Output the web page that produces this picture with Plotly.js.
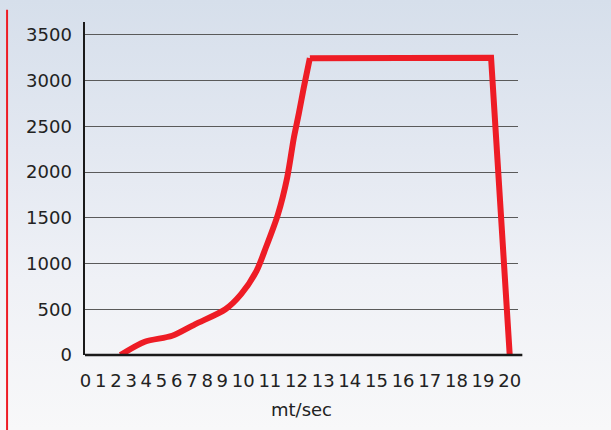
<!DOCTYPE html>
<html>
<head>
<meta charset="utf-8">
<script src="https://cdn.plot.ly/plotly-3.0.1.min.js"></script>
<style>
  html, body { margin: 0; padding: 0; }
  body {
    width: 611px; height: 430px; overflow: hidden;
    background: linear-gradient(180deg, #d6dfeb 0%, #e3e8f1 35%, #eff1f6 65%, #f8f8f9 100%);
  }
  #chart { width: 611px; height: 430px; }
</style>
</head>
<body>
<div id="chart"></div>
<script>
// ---- data ----
const tickSpeeds = [0,1,2,3,4,5,6,7,8,9,10,11,12,13,14,15,16,17,18,19,20];
const tickLabels = ["0","1","2","3","4","5","6","7","8","9","10","11","12","13","14","15","16","17","18","19","20"];
// rising part of the power curve (wind speed m/s, power kW)
const riseSpeed = [2.3, 3.9, 5.7, 7.2, 9.15, 9.9, 10.5, 10.85, 11.3, 11.65, 11.9, 12.08, 12.27, 12.5];
const risePower = [0, 145, 210, 335, 500, 665, 920, 1175, 1535, 1940, 2375, 2630, 2920, 3245];
// rated plateau and cut-out
const flatSpeed = [12.5, 19.3, 20];
const flatPower = [3245, 3250, 0];
const yTicks = [0, 500, 1000, 1500, 2000, 2500, 3000, 3500];

// ---- axis scale: the labels sit like a run of text, so each label's
// position follows from the width of the labels before it ----
const charW = 11.45, gap = 3.75;
const tickPos = [];
tickLabels.forEach((t, i) => {
  if (i === 0) { tickPos.push(0); return; }
  const prev = tickLabels[i - 1];
  tickPos.push(tickPos[i - 1] + prev.length * charW / 2 + gap + t.length * charW / 2);
});
function toAxis(s) {
  for (let i = 0; i < tickSpeeds.length - 1; i++) {
    if (s <= tickSpeeds[i + 1]) {
      const f = (s - tickSpeeds[i]) / (tickSpeeds[i + 1] - tickSpeeds[i]);
      return tickPos[i] + f * (tickPos[i + 1] - tickPos[i]);
    }
  }
  return tickPos[tickPos.length - 1];
}

const red = '#ee1c25';
const traces = [
  { x: riseSpeed.map(toAxis), y: risePower, mode: 'lines',
    line: { color: red, width: 6, shape: 'spline', smoothing: 0.8 }, hoverinfo: 'skip' },
  { x: flatSpeed.map(toAxis), y: flatPower, mode: 'lines',
    line: { color: red, width: 6 }, hoverinfo: 'skip' }
];

const font = { family: 'DejaVu Sans, Verdana, sans-serif', size: 18, color: '#222' };
const layout = {
  width: 611, height: 430,
  margin: { l: 85, r: 93, t: 22, b: 75 },
  paper_bgcolor: 'rgba(0,0,0,0)', plot_bgcolor: 'rgba(0,0,0,0)',
  showlegend: false,
  font: font,
  xaxis: {
    range: [-0.5, 432.5], tickvals: tickPos, ticktext: tickLabels,
    showgrid: false, zeroline: false, showline: false, ticks: '',
    tickfont: font, ticklabelstandoff: 13,
    title: { text: 'mt/sec', font: font, standoff: 13 },
    fixedrange: true
  },
  yaxis: {
    range: [0, 3640], tickvals: yTicks,
    showgrid: true, gridcolor: '#5a5a5a', gridwidth: 1,
    zeroline: false, showline: true, linecolor: '#1a1a1a', linewidth: 2.5,
    ticks: '', tickfont: font, ticklabelstandoff: 7, fixedrange: true
  },
  shapes: [
    { type: 'line', xref: 'paper', yref: 'paper', x0: 0, x1: 1.01, y0: 0, y1: 0,
      line: { color: '#1a1a1a', width: 2.5 } },
    { type: 'line', xref: 'paper', yref: 'paper', x0: -0.18, x1: -0.18, y0: 1.037, y1: -0.3,
      line: { color: red, width: 2 } }
  ]
};
Plotly.newPlot('chart', traces, layout, { displayModeBar: false, staticPlot: true });
</script>
</body>
</html>
